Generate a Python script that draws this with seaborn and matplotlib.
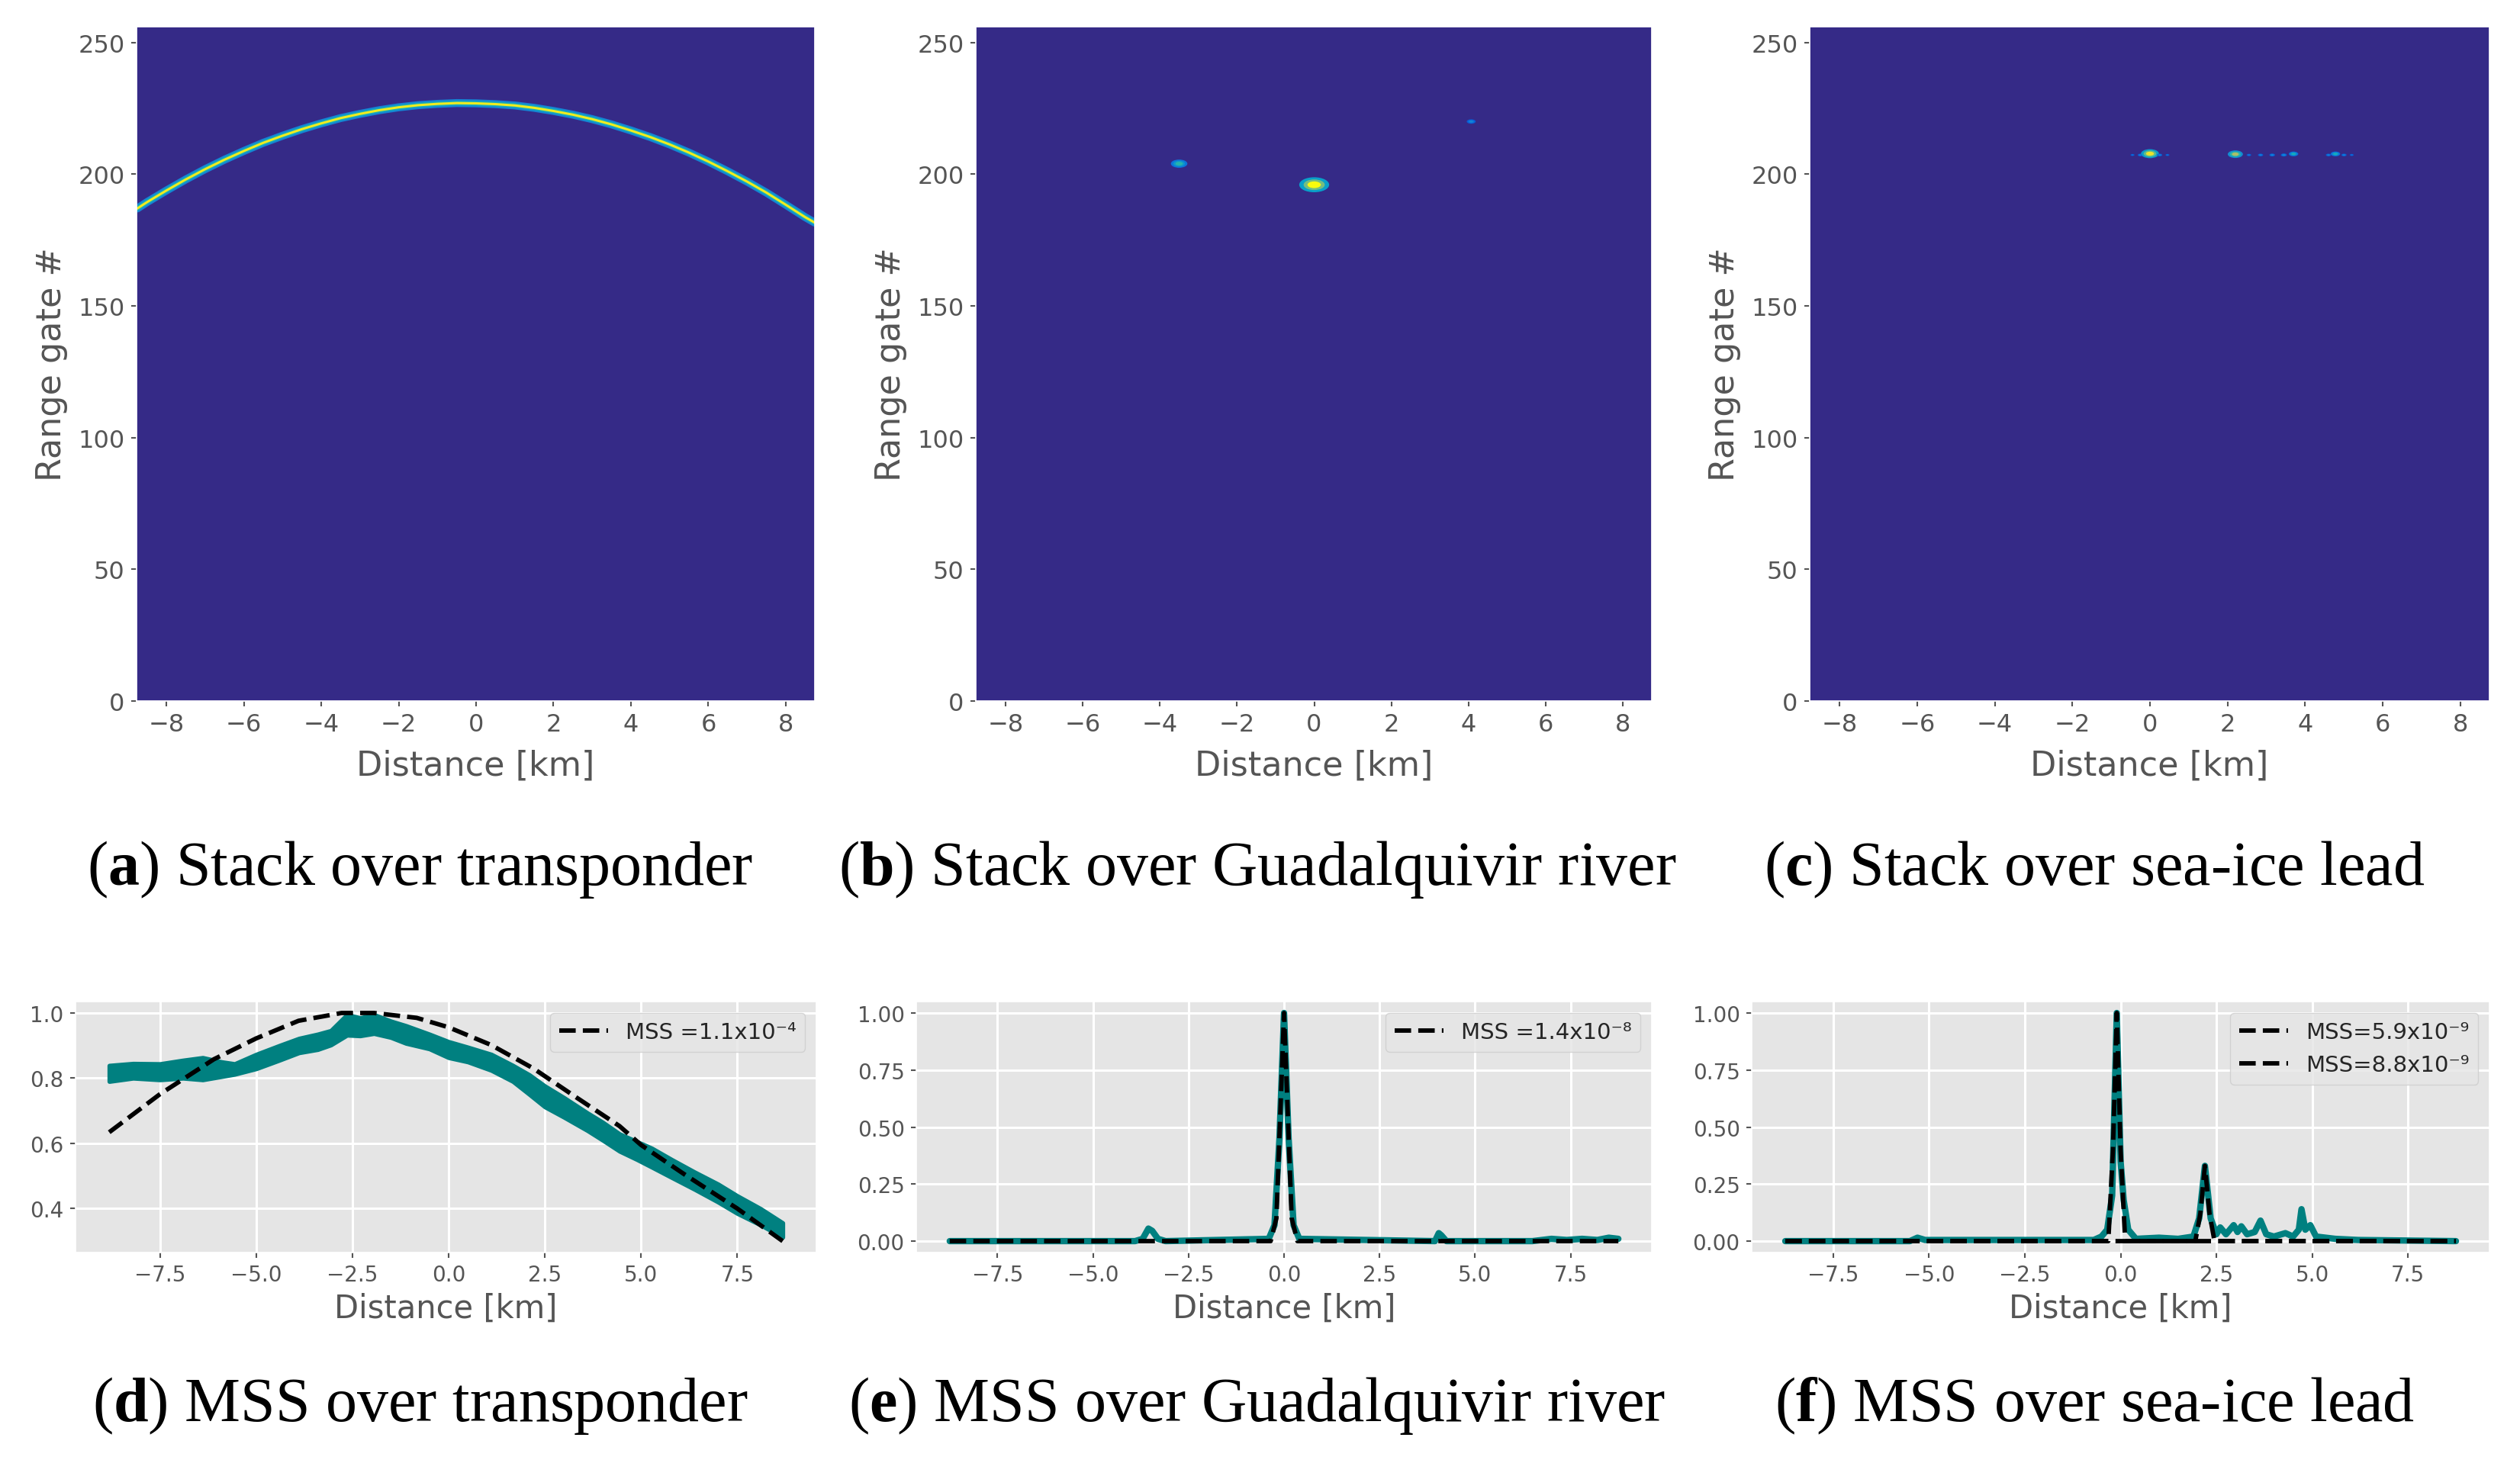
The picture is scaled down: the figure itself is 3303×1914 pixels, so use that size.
import numpy as np
import matplotlib
matplotlib.use("Agg")
import matplotlib.pyplot as plt
import seaborn as sns
from matplotlib.colors import LinearSegmentedColormap
from matplotlib.path import Path

# =========================
# DATA
# =========================

# (a) range gate of the transponder echo along track
stack_a_km = [-8.75, -8.5, -8, -7.5, -7, -6.5, -6, -5.5, -5, -4.5, -4, -3.5, -3, -2.5, -2,
              -1.5, -1, -0.5, 0, 0.5, 1, 1.5, 2, 2.5, 3, 3.5, 4, 4.5, 5, 5.5, 6, 6.5, 7,
              7.5, 8, 8.5, 8.75]
stack_a_gate = [187.0, 189.4, 193.8, 198.0, 201.9, 205.5, 208.8, 211.9, 214.6, 217.1, 219.3,
                221.3, 222.9, 224.3, 225.4, 226.2, 226.7, 227.0, 226.9, 226.6, 226.1, 225.2,
                224.0, 222.6, 220.9, 218.9, 216.6, 214.1, 211.3, 208.2, 204.8, 201.1, 197.2,
                193.0, 188.4, 183.7, 181.6]

# (b) bright returns over the Guadalquivir river
spots_b_km = [0.0, -3.5, 4.07]
spots_b_gate = [196, 204, 220]
spots_b_level = [1.0, 0.55, 0.3]

# (c) bright returns over the sea-ice lead
spots_c_km = [-0.45, -0.25, 0.0, 0.25, 0.45, 2.2, 2.55, 2.85, 3.15, 3.45, 3.7, 4.6, 4.78, 5.0, 5.2]
spots_c_gate = [207.3, 207.3, 207.8, 207.3, 207.3, 207.6, 207.3, 207.3, 207.3, 207.3, 207.7,
                207.3, 207.7, 207.3, 207.3]
spots_c_level = [0.22, 0.28, 0.95, 0.28, 0.22, 0.8, 0.25, 0.28, 0.3, 0.32, 0.5, 0.28, 0.5, 0.28, 0.22]

# (d) normalised power over transponder (noisy band) + MSS fit
wave_d_km = [-8.82, -8.2, -7.5, -6.9, -6.39, -5.9, -5.56, -5.0, -4.4, -3.89, -3.4, -3.06,
             -2.64, -2.3, -1.94, -1.5, -1.11, -0.5, 0.0, 0.5, 1.11, 1.67, 2.1, 2.5, 3.0,
             3.61, 4.0, 4.44, 4.9, 5.28, 5.8, 6.39, 7.0, 7.5, 8.1, 8.68]
wave_d_lo = [0.79, 0.80, 0.795, 0.80, 0.795, 0.805, 0.812, 0.829, 0.855, 0.878, 0.888, 0.902,
             0.932, 0.93, 0.937, 0.925, 0.907, 0.89, 0.863, 0.85, 0.824, 0.79, 0.75, 0.712,
             0.68, 0.639, 0.61, 0.576, 0.55, 0.527, 0.495, 0.459, 0.42, 0.385, 0.35, 0.312]
wave_d_hi = [0.839, 0.845, 0.844, 0.855, 0.863, 0.85, 0.844, 0.873, 0.90, 0.922, 0.935, 0.946,
             0.995, 0.985, 0.995, 0.975, 0.961, 0.935, 0.912, 0.895, 0.873, 0.839, 0.81, 0.776,
             0.74, 0.693, 0.665, 0.629, 0.605, 0.585, 0.55, 0.512, 0.475, 0.439, 0.40, 0.356]
fit_d_km = [-8.82, -7.5, -6.1, -5.0, -3.9, -2.78, -1.94, -0.83, 0.0, 1.1, 2.2, 3.33,
            4.44, 5.0, 6.1, 7.5, 8.68]
fit_d_val = [0.634, 0.751, 0.858, 0.922, 0.976, 1.0, 1.0, 0.985, 0.956, 0.902, 0.83, 0.74,
             0.653, 0.595, 0.507, 0.40, 0.30]

# (e) Guadalquivir river
wave_e_km = [-8.75, -3.9, -3.7, -3.55, -3.45, -3.3, -3.1, -0.4, -0.25, -0.12, 0.0, 0.12, 0.25,
             0.4, 3.95, 4.05, 4.12, 4.25, 6.5, 7.0, 7.4, 7.8, 8.2, 8.5, 8.75]
wave_e_val = [0, 0, 0.01, 0.055, 0.045, 0.01, 0, 0.01, 0.07, 0.45, 1.0, 0.45, 0.07,
              0.01, 0.0, 0.035, 0.025, 0.0, 0.0, 0.01, 0.005, 0.01, 0.005, 0.015, 0.01]
fit_e_km = [-8.75, -0.35, -0.2, -0.1, 0.0, 0.1, 0.2, 0.35, 8.75]
fit_e_val = [0, 0, 0.1, 0.55, 1.0, 0.55, 0.1, 0, 0]

# (f) sea-ice lead
wave_f_km = [-8.75, -5.5, -5.3, -5.1, -0.7, -0.5, -0.35, -0.22, -0.1, 0.0, 0.08, 0.2, 0.4,
             1.0, 1.5, 1.9, 2.05, 2.2, 2.35, 2.5, 2.6, 2.75, 2.95, 3.05, 3.15, 3.3, 3.5,
             3.65, 3.8, 4.0, 4.3, 4.5, 4.65, 4.72, 4.82, 4.95, 5.1, 5.6, 6.2, 8.75]
wave_f_val = [0, 0, 0.015, 0.005, 0.005, 0.02, 0.05, 0.2, 1.0, 0.35, 0.18, 0.05, 0.01,
              0.015, 0.01, 0.02, 0.1, 0.33, 0.1, 0.03, 0.06, 0.03, 0.07, 0.04, 0.065, 0.03, 0.04,
              0.09, 0.03, 0.02, 0.035, 0.02, 0.05, 0.14, 0.05, 0.07, 0.02, 0.01, 0.005, 0.0]
fit_f1_km = [-8.75, -0.32, -0.2, -0.1, 0.0, 0.12, 8.75]
fit_f1_val = [0, 0, 0.4, 1.0, 0.4, 0, 0]
fit_f2_km = [-8.75, 1.95, 2.08, 2.2, 2.32, 2.45, 8.75]
fit_f2_val = [0, 0, 0.12, 0.33, 0.12, 0, 0]

mss_labels_d = ["MSS =1.1x10⁻⁴"]
mss_labels_e = ["MSS =1.4x10⁻⁸"]
mss_labels_f = ["MSS=5.9x10⁻⁹", "MSS=8.8x10⁻⁹"]

captions = [
    ("a", "Stack over transponder"),
    ("b", "Stack over Guadalquivir river"),
    ("c", "Stack over sea-ice lead"),
    ("d", "MSS over transponder"),
    ("e", "MSS over Guadalquivir river"),
    ("f", "MSS over sea-ice lead"),
]

# =========================
# STYLE
# =========================
sns.set_theme(style="darkgrid", rc={
    "axes.facecolor": "#E5E5E5",
    "grid.color": "white",
    "grid.linewidth": 2.2,
    "xtick.bottom": True, "ytick.left": True,
    "xtick.major.size": 5, "ytick.major.size": 5,
    "xtick.major.width": 1.5, "ytick.major.width": 1.5,
    "xtick.color": "#555555", "ytick.color": "#555555",
    "axes.labelcolor": "#555555",
})
plt.rcParams["font.family"] = ["DejaVu Sans"]
plt.rcParams["mathtext.fontset"] = "custom"
plt.rcParams["mathtext.rm"] = "Liberation Serif"
plt.rcParams["mathtext.bf"] = "Liberation Serif:bold"

# MATLAB-like parula colormap
parula = LinearSegmentedColormap.from_list("parula", [
    (0.00, "#352A87"), (0.15, "#0363E1"), (0.30, "#1485D4"), (0.45, "#06A7C6"),
    (0.60, "#38B99E"), (0.75, "#92BF73"), (0.88, "#D9BA56"), (1.00, "#F9FB0E"),
])

circ = Path.unit_circle()
ellipse = Path(circ.vertices * [2.0, 1.0], circ.codes)

W, H = 3303, 1915
fig = plt.figure(figsize=(W / 100, H / 100), dpi=100)


def rect(x0, y0, x1, y1):
    # pixel box -> figure fraction
    return [x0 / W, 1 - y1 / H, (x1 - x0) / W, (y1 - y0) / H]


def stack_axes(box):
    ax = fig.add_axes(rect(*box))
    ax.set_facecolor(parula(0.0))
    ax.grid(False)
    ax.set_xlim(-8.77, 8.75)
    ax.set_ylim(0, 256)
    ax.set_xticks(range(-8, 9, 2))
    ax.set_yticks(range(0, 251, 50))
    ax.tick_params(labelsize=23, pad=6)
    ax.set_xlabel("Distance [km]", fontsize=32, labelpad=12)
    ax.set_ylabel("Range gate #", fontsize=32, labelpad=10)
    return ax


def draw_spots(ax, km, gate, level, base):
    lvl = np.array(level)
    for scale, dim in [(1.0, 0.42), (0.5, 0.7), (0.2, 1.0)]:
        sns.scatterplot(x=km, y=gate, hue=lvl * dim, palette=parula, hue_norm=(0, 1),
                        size=lvl ** 2, size_norm=(0, 1), sizes=(0, base * scale),
                        marker=ellipse, linewidth=0, legend=False, ax=ax)


def mss_axes(box, yticks):
    ax = fig.add_axes(rect(*box))
    ax.set_xticks([-7.5, -5.0, -2.5, 0.0, 2.5, 5.0, 7.5])
    ax.set_yticks(yticks)
    ax.tick_params(labelsize=20, pad=6)
    ax.set_xlabel("Distance [km]", fontsize=30, labelpad=6)
    return ax


# =========================
# TOP ROW: radargram stacks
# =========================
ax_a = stack_axes((179, 36, 1068, 920))
for lw, lvl in [(7.5, 0.3), (4.5, 0.5), (2.2, 0.97)]:
    sns.lineplot(x=stack_a_km, y=stack_a_gate, color=parula(lvl), linewidth=lw, ax=ax_a)

ax_b = stack_axes((1279, 36, 2165, 920))
draw_spots(ax_b, spots_b_km, spots_b_gate, spots_b_level, base=800)

ax_c = stack_axes((2372, 36, 3263, 920))
draw_spots(ax_c, spots_c_km, spots_c_gate, spots_c_level, base=320)

# =========================
# BOTTOM ROW: MSS fits
# =========================
teal = "#008080"

ax_d = mss_axes((99, 1314, 1070, 1643), [0.4, 0.6, 0.8, 1.0])
ax_d.fill_between(wave_d_km, wave_d_lo, wave_d_hi, color=teal, linewidth=4, edgecolor=teal)
sns.lineplot(x=fit_d_km, y=fit_d_val, color="black", linestyle="--", linewidth=4.2,
             label=mss_labels_d[0], ax=ax_d)

ax_e = mss_axes((1201, 1314, 2165, 1643), [0.0, 0.25, 0.5, 0.75, 1.0])
sns.lineplot(x=wave_e_km, y=wave_e_val, color=teal, linewidth=6, ax=ax_e)
sns.lineplot(x=fit_e_km, y=fit_e_val, color="black", linestyle="--", linewidth=4.2,
             label=mss_labels_e[0], ax=ax_e)

ax_f = mss_axes((2296, 1314, 3263, 1643), [0.0, 0.25, 0.5, 0.75, 1.0])
sns.lineplot(x=wave_f_km, y=wave_f_val, color=teal, linewidth=6, ax=ax_f)
sns.lineplot(x=fit_f1_km, y=fit_f1_val, color="black", linestyle="--", linewidth=4.2,
             label=mss_labels_f[0], ax=ax_f)
sns.lineplot(x=fit_f2_km, y=fit_f2_val, color="black", linestyle="--", linewidth=4.2,
             label=mss_labels_f[1], ax=ax_f)

for ax in (ax_d, ax_e, ax_f):
    ax.legend(loc="upper right", fontsize=21, handlelength=2.2)

# =========================
# CAPTIONS
# =========================
cap_x = [551, 1648, 2745, 551, 1648, 2745]
cap_y = [1140, 1140, 1140, 1843, 1843, 1843]
for (letter, text), cx, cy in zip(captions, cap_x, cap_y):
    fig.text(cx / W, 1 - cy / H, "($\\mathbf{" + letter + "}$) " + text,
             ha="center", va="center", fontsize=59, family="Liberation Serif", color="black")

fig.savefig("out.png", dpi=100)
